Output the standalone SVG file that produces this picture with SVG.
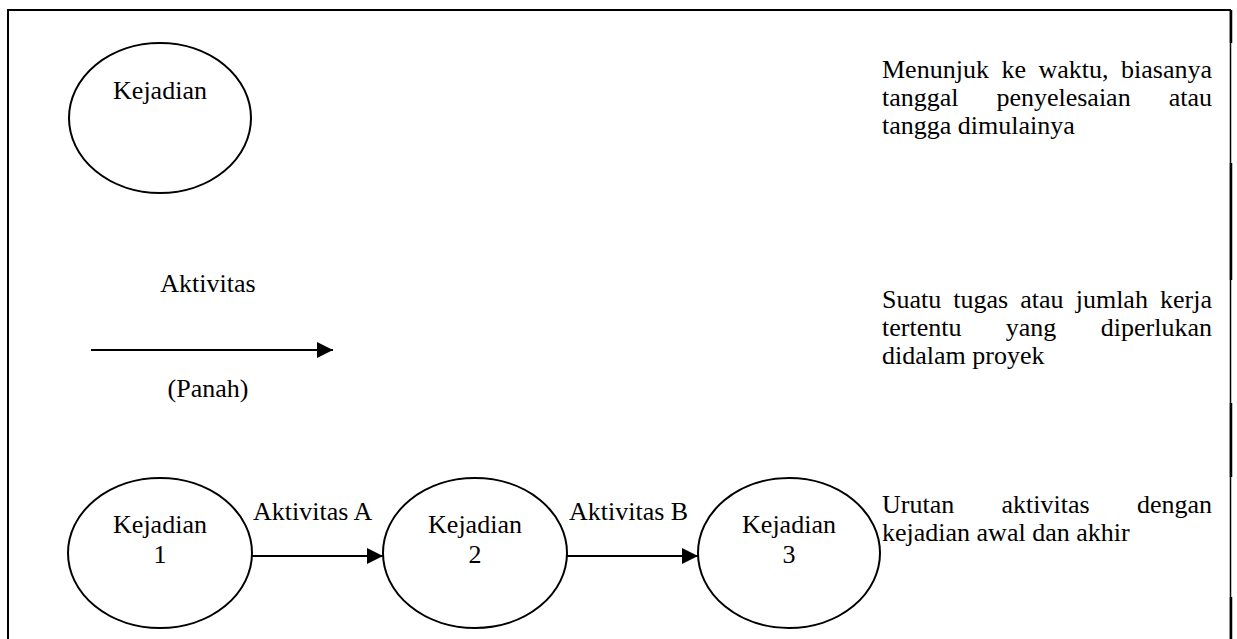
<svg xmlns="http://www.w3.org/2000/svg" width="1237" height="639" viewBox="0 0 1237 639">
  <style>
    .txt { font-family: "Liberation Serif", "Times New Roman", serif; font-size: 26px; fill: #000; }
    .mid { text-anchor: middle; }
    .end { text-anchor: end; }
    .node { fill: #fff; stroke: #000; stroke-width: 2; }
    .edge { fill: none; stroke: #000; stroke-width: 2.2; marker-end: url(#arrow); }
    .frame { fill: none; stroke: #000; stroke-width: 2; }
  </style>
  <defs>
    <marker id="arrow" markerUnits="userSpaceOnUse" markerWidth="17" markerHeight="16" refX="16" refY="8" orient="auto">
      <path d="M0,0 L16,8 L0,16 Z" fill="#000"/>
    </marker>
  </defs>

  <rect width="1237" height="639" fill="#fff"/>

  <!-- outer frame (open at the bottom) -->
  <g id="frame">
    <path class="frame" d="M8,639 V10 H1231"/>
    <line x1="1230.5" y1="10" x2="1230.5" y2="639" stroke="#000" stroke-width="1.5"/>
    <g stroke="#000" stroke-width="2.5">
      <line x1="1231" y1="10" x2="1231" y2="43"/>
      <line x1="1231" y1="163" x2="1231" y2="280"/>
      <line x1="1231" y1="403" x2="1231" y2="477"/>
      <line x1="1231" y1="597" x2="1231" y2="639"/>
    </g>
  </g>

  <!-- legend: event -->
  <g id="event-symbol">
    <ellipse class="node" cx="160" cy="118" rx="91" ry="75"/>
    <text class="txt mid" x="160" y="99">Kejadian</text>
  </g>

  <!-- legend: activity -->
  <g id="activity-symbol">
    <text class="txt mid" x="208" y="292">Aktivitas</text>
    <text class="txt mid" x="208" y="397">(Panah)</text>
  </g>

  <!-- sequence example -->
  <g id="event-1">
    <ellipse class="node" cx="160" cy="553" rx="92" ry="75"/>
    <text class="txt mid" x="160" y="533">Kejadian</text>
    <text class="txt mid" x="160" y="563">1</text>
  </g>
  <g id="event-2">
    <ellipse class="node" cx="475" cy="553" rx="92" ry="75"/>
    <text class="txt mid" x="475" y="533">Kejadian</text>
    <text class="txt mid" x="475" y="563">2</text>
  </g>
  <g id="event-3">
    <ellipse class="node" cx="789" cy="553" rx="91" ry="75"/>
    <text class="txt mid" x="789" y="533">Kejadian</text>
    <text class="txt mid" x="789" y="563">3</text>
  </g>

  <g id="connectors">
    <line class="edge" x1="91" y1="350" x2="333" y2="350"/>
    <line class="edge" x1="252" y1="556" x2="383" y2="556"/>
    <text class="txt" x="253" y="520">Aktivitas A</text>
    <line class="edge" x1="567" y1="556" x2="698" y2="556"/>
    <text class="txt" x="569" y="520">Aktivitas B</text>
  </g>

  <!-- descriptions (justified between x=882 and x=1212) -->
  <g id="desc-event">
    <text class="txt" y="78"><tspan x="882">Menunjuk</tspan><tspan x="1001.4">ke</tspan><tspan x="1038.4">waktu,</tspan></text>
    <text class="txt end" x="1212" y="78">biasanya</text>
    <text class="txt" y="106"><tspan x="882">tanggal</tspan><tspan x="996.4">penyelesaian</tspan></text>
    <text class="txt end" x="1212" y="106">atau</text>
    <text class="txt" x="882" y="134">tangga dimulainya</text>
  </g>
  <g id="desc-activity">
    <text class="txt" y="308"><tspan x="882">Suatu</tspan><tspan x="953.3">tugas</tspan><tspan x="1020.3">atau</tspan><tspan x="1075.7">jumlah</tspan></text>
    <text class="txt end" x="1212" y="308">kerja</text>
    <text class="txt" y="336"><tspan x="882">tertentu</tspan><tspan x="1005.8">yang</tspan></text>
    <text class="txt end" x="1212" y="336">diperlukan</text>
    <text class="txt" x="882" y="364">didalam proyek</text>
  </g>
  <g id="desc-sequence">
    <text class="txt" y="513"><tspan x="882">Urutan</tspan><tspan x="1001.5">aktivitas</tspan></text>
    <text class="txt end" x="1212" y="513">dengan</text>
    <text class="txt" x="882" y="541">kejadian awal dan akhir</text>
  </g>
</svg>
